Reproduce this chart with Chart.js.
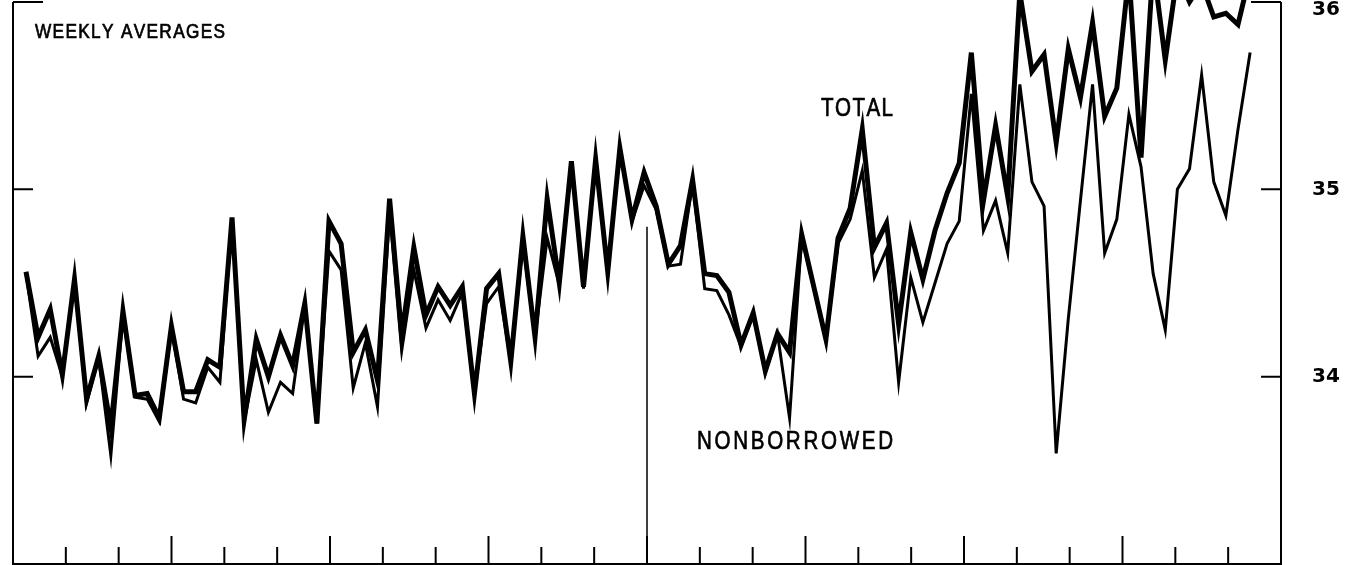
<!DOCTYPE html>
<html>
<head>
<meta charset="utf-8">
<title>Weekly averages</title>
<script src="https://cdn.jsdelivr.net/npm/chart.js@4.4.1/dist/chart.umd.min.js"></script>
<style>
  html, body { margin: 0; padding: 0; background: #fff; }
  #chart { display: block; }
</style>
</head>
<body>
<canvas id="chart" width="1356" height="565"></canvas>
<script>
// weekly averages, two years, one value per week
const totalReserves = [
  34.56, 34.21, 34.36, 34.01, 34.52, 33.88, 34.11, 33.73, 34.35, 33.90,
  33.91, 33.78, 34.27, 33.92, 33.92, 34.09, 34.05, 34.85, 33.77, 34.20,
  34.00, 34.22, 34.06, 34.39, 33.75, 34.83, 34.71, 34.13, 34.25, 33.98,
  34.95, 34.22, 34.69, 34.33, 34.48, 34.38, 34.48, 33.91, 34.47, 34.55,
  34.08, 34.75, 34.21, 34.95, 34.50, 35.15, 34.48, 35.16, 34.56, 35.22,
  34.84, 35.09, 34.91, 34.60, 34.70, 35.05, 34.55, 34.54, 34.45, 34.17,
  34.34, 34.03, 34.23, 34.13, 34.76, 34.48, 34.20, 34.74, 34.90, 35.32,
  34.69, 34.82, 34.28, 34.77, 34.52, 34.78, 34.98, 35.14, 35.73, 34.94,
  35.34, 34.96, 36.05, 35.63, 35.72, 35.25, 35.75, 35.49, 35.89, 35.39,
  35.54, 36.15, 35.17, 36.20, 35.69, 36.15, 36.00, 36.10, 35.92, 35.94,
  35.88, 36.15
];

const nonborrowedReserves = [
  34.55, 34.11, 34.21, 34.00, 34.51, 33.86, 34.10, 33.58, 34.33, 33.89,
  33.88, 33.76, 34.26, 33.88, 33.86, 34.05, 33.97, 34.84, 33.76, 34.09,
  33.81, 33.97, 33.91, 34.38, 33.75, 34.67, 34.57, 33.94, 34.18, 33.84,
  34.88, 34.14, 34.57, 34.26, 34.41, 34.30, 34.45, 33.91, 34.39, 34.48,
  34.08, 34.71, 34.21, 34.74, 34.49, 35.14, 34.47, 35.15, 34.55, 35.21,
  34.83, 35.02, 34.89, 34.59, 34.60, 35.04, 34.47, 34.46, 34.33, 34.16,
  34.33, 34.02, 34.23, 33.78, 34.75, 34.47, 34.19, 34.71, 34.84, 35.10,
  34.53, 34.68, 33.97, 34.53, 34.29, 34.50, 34.71, 34.83, 35.51, 34.78,
  34.94, 34.66, 35.56, 35.04, 34.91, 33.59, 34.31, 34.94, 35.56, 34.66,
  34.84, 35.40, 35.12, 34.55, 34.25, 35.00, 35.11, 35.61, 35.04, 34.86,
  35.32, 35.73
];

const yTicks = [34, 35, 36];
const MONTHS = 24;            // x axis runs over two years, ticked monthly
const FIRST_WEEK = 0.246;     // first weekly average, in months from the left edge
const WEEK = 0.2294;          // one week, in months
const YEAR_LINE_TOP = 34.8;   // top of the divider between the two years

const weekX = i => FIRST_WEEK + i * WEEK;
const toPoints = arr => arr.map((v, i) => ({ x: weekX(i), y: v }));

// lettering is narrow and evenly spaced, so draw it glyph by glyph
function spacedText(ctx, text, left, baseline, cap, width, sx) {
  ctx.font = (cap / 0.716).toFixed(1) + 'px "Liberation Sans", Arial, sans-serif';
  const chars = [...text];
  const ws = chars.map(c => ctx.measureText(c).width * sx);
  const gap = (width - ws.reduce((a, b) => a + b, 0)) / (chars.length - 1);
  let x = left;
  chars.forEach((c, i) => {
    ctx.save();
    ctx.translate(x, baseline);
    ctx.scale(sx, 1);
    ctx.fillText(c, 0, 0);
    ctx.strokeText(c, 0, 0);   // scanned lettering is a bit heavier
    ctx.restore();
    x += ws[i] + gap;
  });
}

// frame, inward ticks and the labels
const frame = {
  id: 'frame',
  afterDatasetsDraw(chart) {
    const { ctx, chartArea: a, scales: { x, y } } = chart;
    ctx.save();
    ctx.strokeStyle = '#000';
    ctx.lineWidth = 2;
    ctx.beginPath();
    ctx.moveTo(a.left, a.top);
    ctx.lineTo(a.left, a.bottom);
    ctx.lineTo(a.right, a.bottom);
    ctx.lineTo(a.right, a.top);
    for (let m = 1; m < MONTHS; m++) {
      const px = x.getPixelForValue(m);
      const len = m % 3 === 0 ? 28 : 17;
      ctx.moveTo(px, a.bottom);
      ctx.lineTo(px, a.bottom - len);
    }
    yTicks.forEach(v => {
      const py = y.getPixelForValue(v);
      const len = v === y.max ? 30 : 20;
      ctx.moveTo(a.left, py);
      ctx.lineTo(a.left + len, py);
      ctx.moveTo(a.right, py);
      ctx.lineTo(a.right - len, py);
    });
    ctx.stroke();

    // divider at the turn of the year
    ctx.lineWidth = 1.5;
    ctx.beginPath();
    const yx = x.getPixelForValue(12);
    ctx.moveTo(yx, y.getPixelForValue(YEAR_LINE_TOP));
    ctx.lineTo(yx, a.bottom);
    ctx.stroke();

    // right hand values
    ctx.fillStyle = '#000';
    ctx.font = 'bold 20px "DejaVu Sans", sans-serif';
    ctx.textAlign = 'left';
    ctx.textBaseline = 'middle';
    yTicks.forEach(v => {
      const py = Math.max(y.getPixelForValue(v), a.top + 8);
      ctx.fillText(String(v), a.right + 31, py);
    });

    ctx.textBaseline = 'alphabetic';
    ctx.lineWidth = 0.7;
    spacedText(ctx, 'WEEKLY AVERAGES', 35, 38, 14.5, 190, 0.85);
    spacedText(ctx, 'TOTAL', 821, 116, 18, 72, 0.82);
    spacedText(ctx, 'NONBORROWED', 697, 449, 18, 196, 0.82);
    ctx.restore();
  }
};

const chart = new Chart(document.getElementById('chart').getContext('2d'), {
  type: 'line',
  data: {
    datasets: [
      {
        label: 'Total',
        data: toPoints(totalReserves),
        borderColor: '#000',
        borderWidth: 5,
        borderJoinStyle: 'miter',
        pointRadius: 0,
        tension: 0,
        clip: { left: 4, top: 2, right: 4, bottom: 4 }
      },
      {
        label: 'Nonborrowed',
        data: toPoints(nonborrowedReserves),
        borderColor: '#000',
        borderWidth: 3,
        borderJoinStyle: 'miter',
        pointRadius: 0,
        tension: 0,
        clip: { left: 4, top: 2, right: 4, bottom: 4 }
      }
    ]
  },
  options: {
    responsive: false,
    animation: false,
    devicePixelRatio: 1,
    layout: { padding: { left: 13, top: 2, right: 75, bottom: 1 } },
    plugins: {
      legend: { display: false },
      tooltip: { enabled: false }
    },
    scales: {
      x: { type: 'linear', min: 0, max: MONTHS, display: false },
      y: { min: 33, max: 36, display: false }
    }
  },
  plugins: [frame]
});
</script>
</body>
</html>
